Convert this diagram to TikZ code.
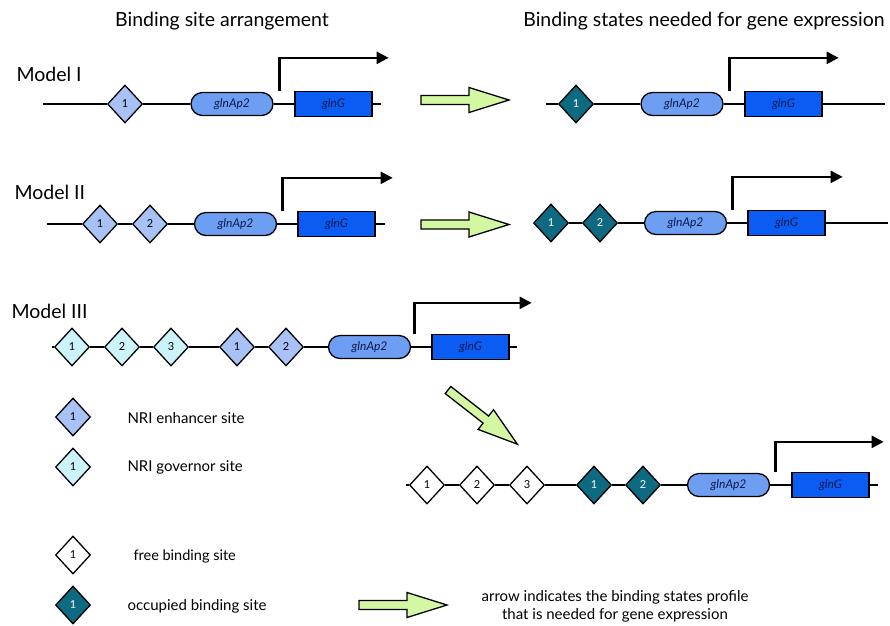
\documentclass[tikz,border=0pt]{standalone}
\usepackage{fontspec}
\setmainfont{Lato}
\usetikzlibrary{positioning, calc, shapes.geometric, arrows.meta}

\definecolor{enhancer}{HTML}{A8C2F7}
\definecolor{governor}{HTML}{CCF3FA}
\definecolor{occupied}{HTML}{0E6A80}
\definecolor{promo}{HTML}{6E9EF2}
\definecolor{genebox}{HTML}{0B5CF2}
\definecolor{genetext}{HTML}{0A1A50}
\definecolor{flow}{HTML}{D3F7A2}

\tikzset{
	site/.style={diamond, draw, line width=1.3pt, inner sep=0pt, minimum width=35pt,
		minimum height=38pt, font=\fontsize{11}{11}\selectfont},
	enhsite/.style={site, fill=enhancer},
	govsite/.style={site, fill=governor},
	freesite/.style={site, fill=white},
	occsite/.style={site, fill=occupied, text=white},
	promoter/.style={draw, line width=1.3pt, fill=promo, rounded corners=11.5pt, minimum width=82pt,
		minimum height=23pt, inner sep=0pt, text=genetext, font=\fontsize{12}{12}\selectfont\itshape},
	gene/.style={draw, line width=1.3pt, fill=genebox, minimum width=77pt, minimum height=25pt,
		inner sep=0pt, text=genetext, font=\fontsize{12}{12}\selectfont\itshape},
	dna/.style={line width=2.6pt},
	tss/.style={line width=2.4pt, -{Triangle[length=12pt,width=12pt]}},
	title/.style={font=\fontsize{19.5}{19.5}\selectfont},
	model/.style={anchor=west, font=\fontsize{19.5}{19.5}\selectfont},
	legend/.style={anchor=west, font=\fontsize{15}{15}\selectfont},
	flowarrow/.pic={
		\draw[line width=1.3pt, fill=flow] (0,-4.5) -- (48,-4.5) -- (48,-12.5) -- (88,0)
			-- (48,12.5) -- (48,4.5) -- (0,4.5) -- cycle;
	}
}

\begin{document}
\begin{tikzpicture}[x=1pt, y=-1pt]
	\useasboundingbox (0,0) rectangle (890,625);

	% headings
	\node[title] (h1) at (222,21) {Binding site arrangement};
	\node[title] (h2) at (704,21) {Binding states needed for gene expression};

	% Model I
	\node[model] (m1) at (13,74) {Model I};
	\coordinate (a1s) at (43,104);
	\node[enhsite] (a1d1) at (125,104) {1};
	\node[promoter] (a1p) at (232,104) {glnAp2};
	\node[gene] (a1g) at (333.5,104) {glnG};
	\coordinate (a1e) at (381,104);
	\draw[dna] (a1s) -- (a1d1) -- (a1p) -- (a1g) -- (a1e);
	\draw[tss] ($(a1g.north west)+(-15,0)$) |- ($(a1g.north east)+(16,-33)$);

	\pic at (421,100) {flowarrow};

	\coordinate (b1s) at (546,104);
	\node[occsite] (b1d1) at (576,104) {1};
	\node[promoter] (b1p) at (682,104) {glnAp2};
	\node[gene] (b1g) at (783.5,104) {glnG};
	\coordinate (b1e) at (885,104);
	\draw[dna] (b1s) -- (b1d1) -- (b1p) -- (b1g) -- (b1e);
	\draw[tss] ($(b1g.north west)+(-15,0)$) |- ($(b1g.north east)+(16,-33)$);

	% Model II
	\node[model] (m2) at (11,192) {Model II};
	\coordinate (a2s) at (47,224);
	\node[enhsite] (a2d1) at (100,224) {1};
	\node[enhsite] (a2d2) at (150,224) {2};
	\node[promoter] (a2p) at (235.5,224) {glnAp2};
	\node[gene] (a2g) at (336.5,224) {glnG};
	\coordinate (a2e) at (385,224);
	\draw[dna] (a2s) -- (a2d1) -- (a2d2) -- (a2p) -- (a2g) -- (a2e);
	\draw[tss] ($(a2g.north west)+(-15,0)$) |- ($(a2g.north east)+(17,-33)$);

	\pic at (421,224.5) {flowarrow};

	\node[occsite] (b2d1) at (551,223) {1};
	\node[occsite] (b2d2) at (600,223) {2};
	\node[promoter] (b2p) at (685.5,223) {glnAp2};
	\node[gene] (b2g) at (786.5,223) {glnG};
	\coordinate (b2e) at (888,223);
	\draw[dna] (b2d1) -- (b2d2) -- (b2p) -- (b2g) -- (b2e);
	\draw[tss] ($(b2g.north west)+(-15,0)$) |- ($(b2g.north east)+(17,-33)$);

	% Model III
	\node[model] (m3) at (8,311) {Model III};
	\coordinate (a3s) at (52,347);
	\node[govsite] (a3g1) at (72,347) {1};
	\node[govsite] (a3g2) at (122,347) {2};
	\node[govsite] (a3g3) at (171,347) {3};
	\node[enhsite] (a3d1) at (237,347) {1};
	\node[enhsite] (a3d2) at (286,347) {2};
	\node[promoter] (a3p) at (369.5,347) {glnAp2};
	\node[gene] (a3g) at (470.5,347) {glnG};
	\coordinate (a3e) at (517,347);
	\draw[dna] (a3s) -- (a3g1) -- (a3g2) -- (a3g3) -- (a3d1) -- (a3d2) -- (a3p) -- (a3g) -- (a3e);
	\draw[tss] ($(a3g.north west)+(-17,0)$) |- ($(a3g.north east)+(22,-31)$);

	\pic[rotate=-38] at (448,390) {flowarrow};

	\coordinate (b3s) at (406,485);
	\node[freesite] (b3g1) at (427,485) {1};
	\node[freesite] (b3g2) at (477,485) {2};
	\node[freesite] (b3g3) at (527,485) {3};
	\node[occsite] (b3d1) at (594,485) {1};
	\node[occsite] (b3d2) at (643,485) {2};
	\node[promoter] (b3p) at (728.5,485) {glnAp2};
	\node[gene] (b3g) at (830.5,485) {glnG};
	\coordinate (b3e) at (878,485);
	\draw[dna] (b3s) -- (b3g1) -- (b3g2) -- (b3g3) -- (b3d1) -- (b3d2) -- (b3p) -- (b3g) -- (b3e);
	\draw[tss] ($(b3g.north west)+(-16,0)$) |- ($(b3g.north east)+(14,-30)$);

	% legend
	\node[enhsite] (lenh) at (73,417) {1};
	\node[legend] (lenhtxt) at (124,418) {NRI enhancer site};
	\node[govsite] (lgov) at (73,467) {1};
	\node[legend] (lgovtxt) at (124,467) {NRI governor site};
	\node[freesite] (lfree) at (73,555) {1};
	\node[legend, font=\fontsize{14.5}{14.5}\selectfont] (lfreetxt) at (130,556) {free binding site};
	\node[occsite] (locc) at (73,605) {1};
	\node[legend] (lacctxt) at (124,606) {occupied binding site};
	\pic at (359,605) {flowarrow};
	\node[align=center, font=\fontsize{15}{18}\selectfont] (lflow) at (615,606)
		{arrow indicates the binding states profile\\that is needed for gene expression};
\end{tikzpicture}
\end{document}
